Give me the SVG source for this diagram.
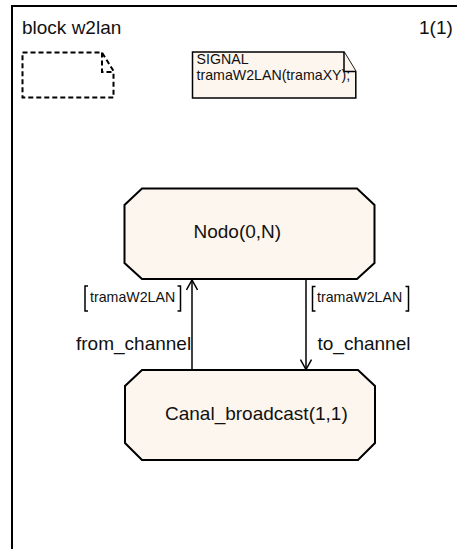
<svg xmlns="http://www.w3.org/2000/svg" width="457" height="549" viewBox="0 0 457 549">
  <defs>
    <style>
      .frame { fill: none; stroke: #000; stroke-width: 2; }
      .block { fill: #fdf6ee; stroke: #000; stroke-width: 2; stroke-linejoin: miter; }
      .note { fill: #fdf6ee; stroke: #000; stroke-width: 1.5; }
      .draft { fill: none; stroke: #000; stroke-width: 2; stroke-dasharray: 5 3; }
      .wire { fill: none; stroke: #000; stroke-width: 1.5; }
      .bracket { fill: none; stroke: #000; stroke-width: 1.5; }
      .big { font-family: "Liberation Sans", Arial, sans-serif; font-size: 19px; fill: #111; }
      .small { font-family: "Liberation Sans", Arial, sans-serif; font-size: 14.2px; fill: #111; }
    </style>
    <marker id="open-arrow" viewBox="0 0 12 12" refX="11" refY="6" markerWidth="12" markerHeight="12" markerUnits="userSpaceOnUse" orient="auto">
      <path d="M1,0.5 L11,6 L1,11.5" fill="none" stroke="#000" stroke-width="1.5"/>
    </marker>
  </defs>

  <!-- diagram frame -->
  <g id="frame">
    <path class="frame" d="M12,549 V6 H457"/>
    <text class="big" x="22" y="34">block w2lan</text>
    <text class="big" x="419" y="34">1(1)</text>
  </g>

  <!-- empty placeholder comment -->
  <g id="empty-note">
    <path class="draft" d="M22.5,52.5 H102 L113.5,71 V97.5 H22.5 Z"/>
    <path class="draft" d="M102,52.5 V72 H113.5"/>
  </g>

  <!-- signal declaration -->
  <g id="signal-decl">
    <path class="note" d="M192.5,52 H344 L355.8,71.5 V98 H192.5 Z"/>
    <path class="note" fill="none" d="M344,52 V71.5 H355.8"/>
    <text class="small" x="196.5" y="64">SIGNAL</text>
    <text class="small" x="196.5" y="80.2">tramaW2LAN(tramaXY);</text>
  </g>

  <!-- process Nodo -->
  <g id="nodo">
    <path class="block" d="M142,188.5 H357 L374.5,205 V263 L357,279 H142 L124.5,263 V205 Z"/>
    <text class="big" x="193.5" y="237.5">Nodo(0,N)</text>
  </g>

  <!-- process Canal_broadcast -->
  <g id="canal-broadcast">
    <path class="block" d="M142,370 H358 L375,386 V443 L358,460 H142 L125,443 V386 Z"/>
    <text class="big" x="165" y="419.5">Canal_broadcast(1,1)</text>
  </g>

  <!-- signal routes -->
  <g id="connectors">
    <g id="from-channel">
      <line class="wire" x1="192" y1="370" x2="192" y2="280" marker-end="url(#open-arrow)"/>
      <path class="bracket" d="M88,286 H85 V311 H88"/>
      <path class="bracket" d="M177.5,286 H180.5 V311 H177.5"/>
      <text class="small" x="90" y="301.5">tramaW2LAN</text>
      <text class="big" x="76" y="350">from_channel</text>
    </g>
    <g id="to-channel">
      <line class="wire" x1="306" y1="279" x2="306" y2="369.5" marker-end="url(#open-arrow)"/>
      <path class="bracket" d="M315.5,286.5 H312.5 V311 H315.5"/>
      <path class="bracket" d="M405.5,286.5 H408.5 V311 H405.5"/>
      <text class="small" x="317" y="301.5">tramaW2LAN</text>
      <text class="big" x="317.5" y="350">to_channel</text>
    </g>
  </g>
</svg>
